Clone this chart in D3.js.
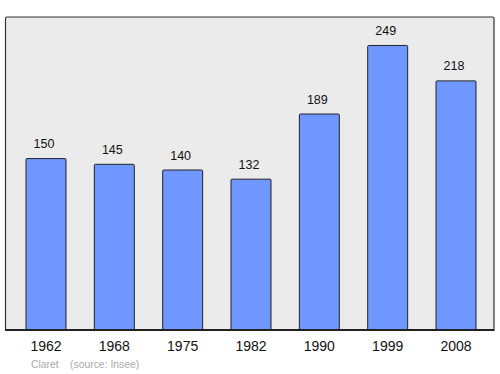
<!DOCTYPE html>
<html>
<head>
<meta charset="utf-8">
<script src="https://cdn.jsdelivr.net/npm/d3@7"></script>
<style>
  body { margin: 0; background: #fff; }
  svg { display: block; font-family: "Liberation Sans", Arial, sans-serif; }
</style>
</head>
<body>
<div id="chart"></div>
<script>
// data
var years = ["1962", "1968", "1975", "1982", "1990", "1999", "2008"];
var population = [150, 145, 140, 132, 189, 249, 218];

var width = 500;
var height = 374;

// plot frame
var frameLeft = 5.5;
var frameRight = 494;
var frameTop = 17;
var frameBottom = 330;

var svg = d3.select("#chart").append("svg")
    .attr("width", width)
    .attr("height", height);

// grey background box
svg.append("rect")
    .attr("x", frameLeft)
    .attr("y", frameTop)
    .attr("width", frameRight - frameLeft)
    .attr("height", frameBottom - frameTop)
    .attr("rx", 1.5)
    .style("fill", "#ebebeb")
    .style("stroke", "#333")
    .style("stroke-width", 1.2);

var xScale = d3.scaleBand()
    .domain(years)
    .range([26, 476])
    .paddingInner(0.415)
    .paddingOuter(0);

var yScale = d3.scaleLinear()
    .domain([0, d3.max(population) * 1.1])
    .range([frameBottom, frameTop]);

var pData = years.map(function(y, i) { return { year: y, value: population[i] }; });

// bars
svg.selectAll(".bar")
    .data(pData)
    .enter()
    .append("rect")
    .attr("class", "bar")
    .attr("x", function(d) { return xScale(d.year); })
    .attr("y", function(d) { return yScale(d.value); })
    .attr("width", xScale.bandwidth())
    .attr("height", function(d) { return frameBottom - yScale(d.value); })
    .attr("rx", 1)
    .style("fill", "#6f97ff")
    .style("stroke", "#222")
    .style("stroke-width", 1);

// value labels above bars
svg.selectAll(".vlabel")
    .data(pData)
    .enter()
    .append("text")
    .attr("class", "vlabel")
    .attr("x", function(d) { return xScale(d.year) + xScale.bandwidth() / 2 - 2; })
    .attr("y", function(d) { return yScale(d.value) - 10.5; })
    .attr("text-anchor", "middle")
    .style("font-size", "12.5px")
    .style("fill", "#111")
    .text(function(d) { return d.value; });

// bottom axis
var bottomAxis = d3.axisBottom(xScale).tickSize(0).tickPadding(11);
var xAxis = svg.append("g")
    .attr("transform", "translate(0," + frameBottom + ")")
    .call(bottomAxis);
xAxis.select(".domain").remove();
xAxis.selectAll("text")
    .style("font-family", "\"Liberation Sans\", Arial, sans-serif")
    .style("font-size", "14px")
    .style("fill", "#111");

svg.append("line")
    .attr("x1", frameLeft - 0.5)
    .attr("x2", frameRight + 0.5)
    .attr("y1", frameBottom)
    .attr("y2", frameBottom)
    .style("stroke", "#222")
    .style("stroke-width", 1.8);

// footer
svg.append("text")
    .attr("x", 31)
    .attr("y", 368)
    .style("font-size", "10.4px")
    .style("fill", "#aaa")
    .text("Claret");

svg.append("text")
    .attr("x", 70)
    .attr("y", 368)
    .style("font-size", "10.4px")
    .style("fill", "#aaa")
    .text("(source: Insee)");
</script>
</body>
</html>
